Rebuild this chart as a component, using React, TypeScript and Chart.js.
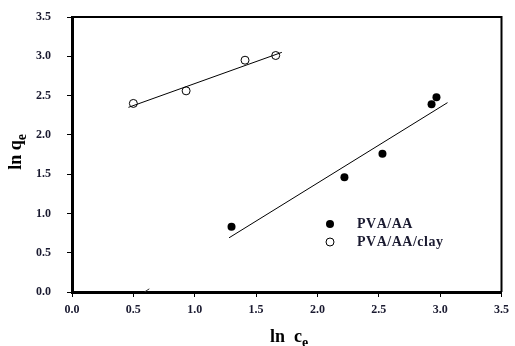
import React, { useEffect, useRef } from "react";
import { Chart, registerables } from "chart.js";
Chart.register(...registerables);

const xMin = 0;
const xMax = 3.5;
const yMin = 0;
const yMax = 3.5;
const tickStep = 0.5;

const pvaAaX = [1.3, 2.22, 2.53, 2.93, 2.97];
const pvaAaY = [0.83, 1.46, 1.76, 2.39, 2.48];
const clayX = [0.5, 0.93, 1.41, 1.66];
const clayY = [2.4, 2.56, 2.95, 3.01];
const fitAaX = [1.28, 3.06];
const fitAaY = [0.69, 2.41];
const fitClayX = [0.46, 1.71];
const fitClayY = [2.35, 3.05];
const markX = [0.59, 0.63];
const markY = [0.0, 0.04];

const legendLabels = ["PVA/AA", "PVA/AA/clay"];

const zip = (xs: number[], ys: number[]) => xs.map((x, i) => ({ x, y: ys[i] }));

const FONT = "'Liberation Serif', 'Times New Roman', serif";

const decorPlugin = {
  id: "decor",
  afterDraw(chart: any) {
    const { ctx, chartArea } = chart;
    const { left, right, top, bottom } = chartArea;
    ctx.save();
    // top & right frame
    ctx.strokeStyle = "#000";
    ctx.lineWidth = 2;
    ctx.beginPath();
    ctx.moveTo(left, top);
    ctx.lineTo(right, top);
    ctx.lineTo(right, bottom);
    ctx.stroke();

    // legend (placed in pixel space to the lower right of the plot)
    const lx = left + 258;
    const ly = bottom - 68;
    const rowH = 18;
    ctx.font = `bold 14px ${FONT}`;
    ctx.textBaseline = "middle";
    for (let i = 0; i < legendLabels.length; i++) {
      const cy = ly + i * rowH;
      ctx.beginPath();
      ctx.arc(lx, cy, 4, 0, Math.PI * 2);
      if (i === 0) {
        ctx.fillStyle = "#000";
        ctx.fill();
      } else {
        ctx.fillStyle = "#fff";
        ctx.fill();
        ctx.lineWidth = 1;
        ctx.strokeStyle = "#000";
        ctx.stroke();
      }
      ctx.fillStyle = "#1a1a30";
      ctx.textAlign = "left";
      const label = legendLabels[i];
      let px = lx + 27;
      for (const ch of label) {
        ctx.fillText(ch, px, cy);
        px += ctx.measureText(ch).width + 0.5;
      }
    }

    // x title: ln c_e
    ctx.fillStyle = "#000";
    ctx.textBaseline = "alphabetic";
    ctx.font = `bold 18px ${FONT}`;
    const main = "ln  c";
    const w1 = ctx.measureText(main).width;
    ctx.font = `bold 14px ${FONT}`;
    const w2 = ctx.measureText("e").width;
    const xc = 289;
    const xb = 342;
    const sx = xc - (w1 + w2) / 2;
    ctx.font = `bold 18px ${FONT}`;
    ctx.textAlign = "left";
    ctx.fillText(main, sx, xb);
    ctx.font = `bold 14px ${FONT}`;
    ctx.fillText("e", sx + w1, xb + 5);

    // y title: ln q_e rotated
    ctx.save();
    ctx.translate(21, 152);
    ctx.rotate(-Math.PI / 2);
    ctx.font = `bold 18px ${FONT}`;
    const m2 = "ln q";
    const wy1 = ctx.measureText(m2).width;
    ctx.font = `bold 14px ${FONT}`;
    const wy2 = ctx.measureText("e").width;
    const syy = -(wy1 + wy2) / 2;
    ctx.font = `bold 18px ${FONT}`;
    ctx.fillText(m2, syy, 0);
    ctx.font = `bold 14px ${FONT}`;
    ctx.fillText("e", syy + wy1, 5);
    ctx.restore();

    ctx.restore();
  },
};

export default function App() {
  const ref = useRef<HTMLCanvasElement | null>(null);
  useEffect(() => {
    document.body.style.margin = "0";
    const canvas = ref.current!;
    const tickFont = { family: FONT, size: 12, weight: "bold" as const };
    const chart = new Chart(canvas, {
      type: "scatter",
      data: {
        datasets: [
          {
            label: "fitAa",
            type: "line",
            data: zip(fitAaX, fitAaY),
            borderColor: "#000",
            borderWidth: 1,
            pointRadius: 0,
            fill: false,
          },
          {
            label: "fitClay",
            type: "line",
            data: zip(fitClayX, fitClayY),
            borderColor: "#000",
            borderWidth: 1,
            pointRadius: 0,
            fill: false,
          },
          {
            label: "mark",
            type: "line",
            data: zip(markX, markY),
            borderColor: "#333",
            borderWidth: 1,
            pointRadius: 0,
            fill: false,
          },
          {
            label: legendLabels[0],
            data: zip(pvaAaX, pvaAaY),
            backgroundColor: "#000",
            borderColor: "#000",
            pointRadius: 4,
            borderWidth: 0,
          },
          {
            label: legendLabels[1],
            data: zip(clayX, clayY),
            backgroundColor: "#fff",
            borderColor: "#000",
            pointRadius: 4,
            borderWidth: 1,
          },
        ],
      },
      options: {
        responsive: false,
        animation: false,
        layout: { padding: { top: 17, right: 12, left: 0, bottom: 0 } },
        plugins: { legend: { display: false }, tooltip: { enabled: false } },
        scales: {
          x: {
            type: "linear",
            min: xMin,
            max: xMax,
            ticks: {
              stepSize: tickStep,
              callback: (v: any) => Number(v).toFixed(1),
              font: tickFont,
              color: "#1a1a30",
              padding: 6,
              maxRotation: 0,
            },
            grid: { drawOnChartArea: false, drawTicks: true, tickLength: 5, color: "#000" },
            border: { display: true, width: 3, color: "#000" },
            afterFit: (s: any) => {
              s.height = 54;
            },
          },
          y: {
            type: "linear",
            min: yMin,
            max: yMax,
            ticks: {
              stepSize: tickStep,
              callback: (v: any) => Number(v).toFixed(1),
              font: tickFont,
              color: "#1a1a30",
              padding: 16,
            },
            grid: { drawOnChartArea: false, drawTicks: true, tickLength: 5, color: "#000" },
            border: { display: true, width: 3, color: "#000" },
            afterFit: (s: any) => {
              s.width = 72;
              s.paddingTop = 0;
              s.paddingBottom = 0;
            },
          },
        },
      },
      plugins: [decorPlugin],
    });
    return () => chart.destroy();
  }, []);
  return (
    <div style={{ position: "absolute", left: 0, top: 0, width: 515, height: 346, background: "#fff" }}>
      <canvas ref={ref} width={515} height={346} />
    </div>
  );
}
